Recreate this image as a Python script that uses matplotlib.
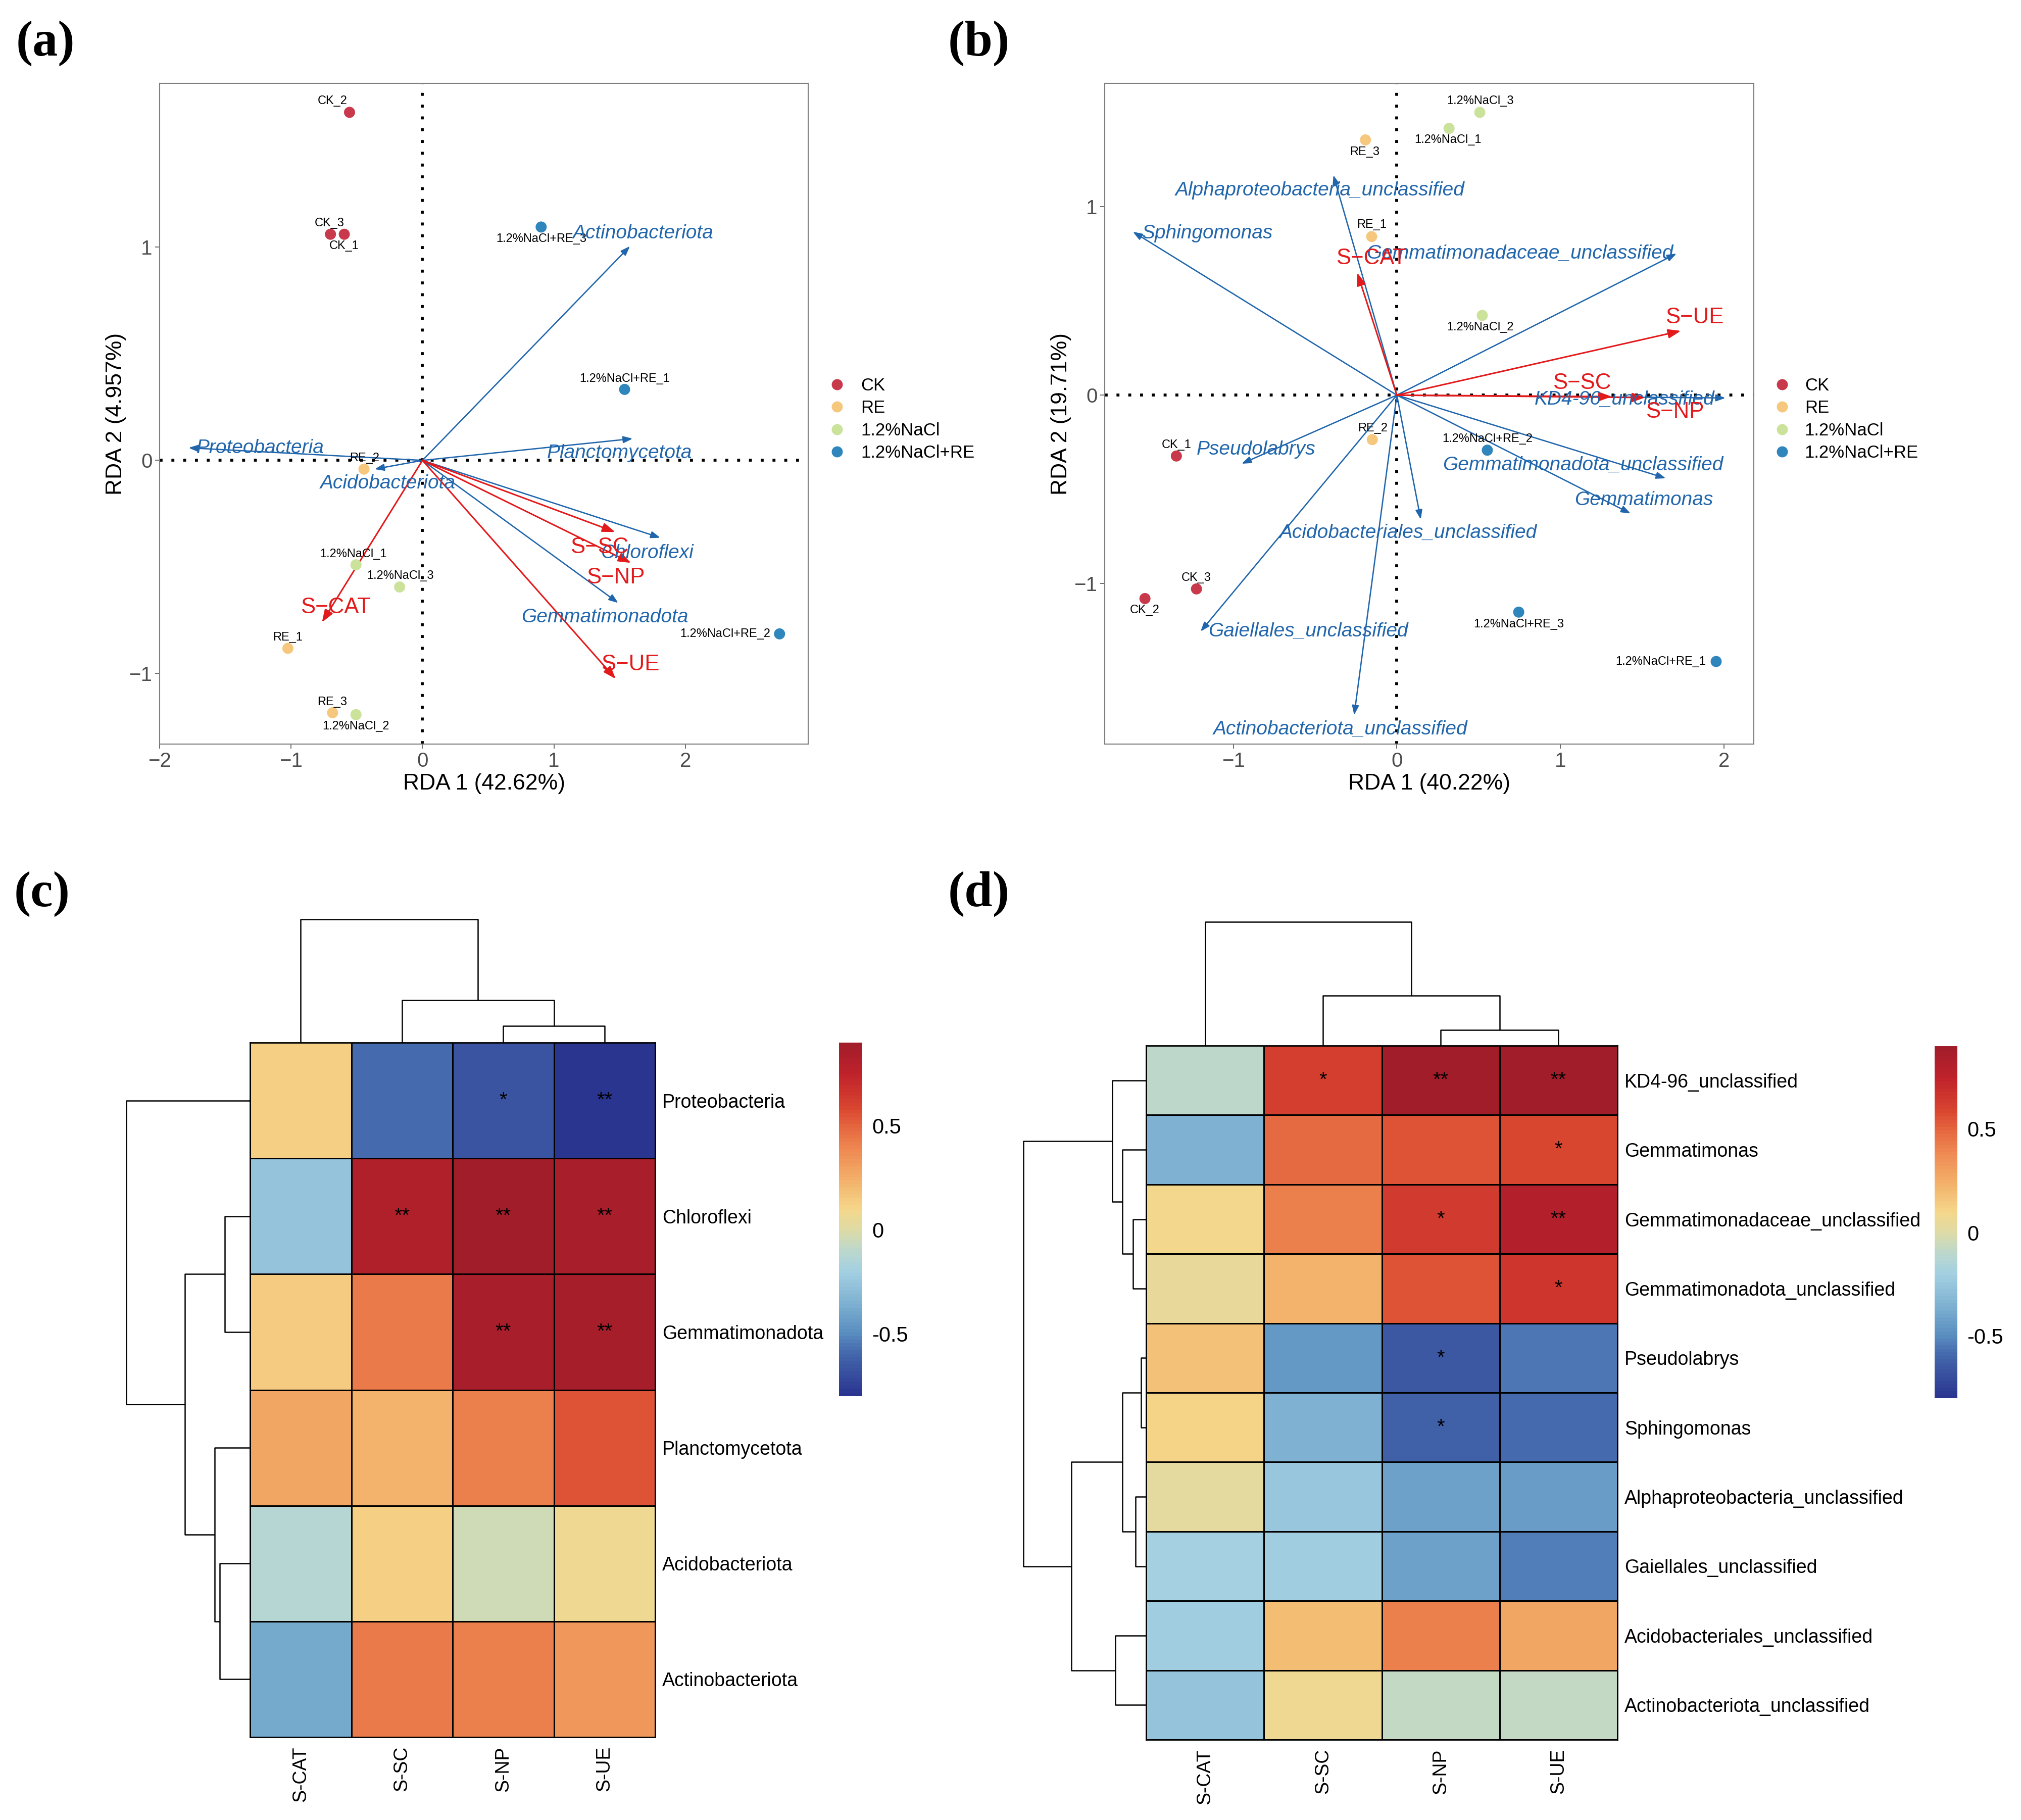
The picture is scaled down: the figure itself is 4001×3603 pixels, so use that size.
import numpy as np
import matplotlib
matplotlib.use('Agg')
import matplotlib.pyplot as plt
from matplotlib import font_manager as fm
from matplotlib.colors import LinearSegmentedColormap, Normalize
from matplotlib.lines import Line2D
from matplotlib.cm import ScalarMappable

# ------------------------------------------------------------------ data
groups = ['CK', 'RE', '1.2%NaCl', '1.2%NaCl+RE']
group_colors = ['#C8394B', '#F6C87E', '#CBE29A', '#2E86BC']

sample_names = ['CK_1', 'CK_2', 'CK_3', 'RE_1', 'RE_2', 'RE_3',
                '1.2%NaCl_1', '1.2%NaCl_2', '1.2%NaCl_3',
                '1.2%NaCl+RE_1', '1.2%NaCl+RE_2', '1.2%NaCl+RE_3']
sample_groups = [0, 0, 0, 1, 1, 1, 2, 2, 2, 3, 3, 3]

env_names = ['S\u2212SC', 'S\u2212NP', 'S\u2212UE', 'S\u2212CAT']

# panel (a) RDA
a_rda1 = [-0.595, -0.555, -0.700, -1.024, -0.445, -0.684, -0.506, -0.506, -0.174, 1.538, 2.717, 0.903]
a_rda2 = [1.061, 1.633, 1.061, -0.882, -0.041, -1.184, -0.490, -1.193, -0.594, 0.333, -0.814, 1.095]
a_lab1 = [-0.595, -0.684, -0.708, -1.024, -0.441, -0.688, -0.526, -0.506, -0.170, 1.538, 2.304, 0.903]
a_lab2 = [1.005, 1.687, 1.113, -0.832, 0.011, -1.134, -0.440, -1.247, -0.542, 0.383, -0.814, 1.039]
a_species = ['Actinobacteriota', 'Proteobacteria', 'Planctomycetota',
             'Acidobacteriota', 'Chloroflexi', 'Gemmatimonadota']
a_sp1 = [1.579, -1.780, 1.600, -0.364, 1.810, 1.490]
a_sp2 = [1.005, 0.059, 0.102, -0.041, -0.363, -0.669]
a_splab1 = [1.680, -1.235, 1.498, -0.263, 1.713, 1.389]
a_splab2 = [1.066, 0.059, 0.034, -0.107, -0.435, -0.737]
a_env1 = [1.466, 1.587, 1.470, -0.765]
a_env2 = [-0.336, -0.481, -1.025, -0.760]
a_envlab1 = [1.348, 1.470, 1.580, -0.660]
a_envlab2 = [-0.408, -0.549, -0.957, -0.689]

# panel (b) RDA
b_rda1 = [-1.348, -1.540, -1.225, -0.154, -0.150, -0.192, 0.319, 0.522, 0.507, 1.952, 0.553, 0.745]
b_rda2 = [-0.323, -1.079, -1.028, 0.841, -0.236, 1.354, 1.415, 0.423, 1.500, -1.413, -0.292, -1.151]
b_lab1 = [-1.348, -1.540, -1.225, -0.154, -0.146, -0.196, 0.311, 0.511, 0.511, 1.614, 0.553, 0.745]
b_lab2 = [-0.264, -1.141, -0.969, 0.903, -0.177, 1.290, 1.354, 0.359, 1.559, -1.413, -0.233, -1.215]
b_species = ['Alphaproteobacteria_unclassified', 'Sphingomonas',
             'Gemmatimonadaceae_unclassified', 'KD4-96_unclassified',
             'Gemmatimonadota_unclassified', 'Gemmatimonas', 'Pseudolabrys',
             'Acidobacteriales_unclassified', 'Gaiellales_unclassified',
             'Actinobacteriota_unclassified']
b_sp1 = [-0.388, -1.614, 1.710, 2.009, 1.644, 1.429, -0.949, 0.146, -1.200, -0.261]
b_sp2 = [1.167, 0.867, 0.751, -0.015, -0.441, -0.628, -0.364, -0.659, -1.254, -1.697]
b_splab1 = [-0.469, -1.156, 0.753, 1.393, 1.139, 1.510, -0.860, 0.069, -0.542, -0.346]
b_splab2 = [1.085, 0.859, 0.751, -0.023, -0.372, -0.556, -0.290, -0.731, -1.254, -1.772]
b_env1 = [1.314, 1.517, 1.736, -0.242]
b_env2 = [-0.008, -0.013, 0.341, 0.649]
b_envlab1 = [1.130, 1.698, 1.821, -0.158]
b_envlab2 = [0.064, -0.090, 0.413, 0.726]

# heatmaps
hm_cols = ['S-CAT', 'S-SC', 'S-NP', 'S-UE']
c_rows = ['Proteobacteria', 'Chloroflexi', 'Gemmatimonadota',
          'Planctomycetota', 'Acidobacteriota', 'Actinobacteriota']
c_vals = [[0.13, -0.58, -0.68, -0.80],
          [-0.27, 0.83, 0.90, 0.85],
          [0.15, 0.44, 0.85, 0.88],
          [0.28, 0.22, 0.41, 0.55],
          [-0.13, 0.13, -0.04, 0.08],
          [-0.39, 0.44, 0.42, 0.33]]
c_sig = [['', '', '*', '**'],
         ['', '**', '**', '**'],
         ['', '', '**', '**'],
         ['', '', '', ''],
         ['', '', '', ''],
         ['', '', '', '']]
d_rows = ['KD4-96_unclassified', 'Gemmatimonas', 'Gemmatimonadaceae_unclassified',
          'Gemmatimonadota_unclassified', 'Pseudolabrys', 'Sphingomonas',
          'Alphaproteobacteria_unclassified', 'Gaiellales_unclassified',
          'Acidobacteriales_unclassified', 'Actinobacteriota_unclassified']
d_vals = [[-0.10, 0.62, 0.90, 0.90],
          [-0.35, 0.49, 0.55, 0.59],
          [0.09, 0.41, 0.63, 0.80],
          [0.04, 0.22, 0.55, 0.66],
          [0.17, -0.46, -0.65, -0.56],
          [0.11, -0.35, -0.62, -0.58],
          [0.03, -0.25, -0.41, -0.43],
          [-0.19, -0.22, -0.41, -0.53],
          [-0.21, 0.20, 0.41, 0.28],
          [-0.27, 0.08, -0.08, -0.08]]
d_sig = [['', '*', '**', '**'],
         ['', '', '', '*'],
         ['', '', '*', '**'],
         ['', '', '', '*'],
         ['', '', '*', ''],
         ['', '', '*', ''],
         ['', '', '', ''],
         ['', '', '', ''],
         ['', '', '', ''],
         ['', '', '', '']]

# dendrogram merges: (child_a, child_b, height)
c_col_merges = [(2, 3, 33), (1, 4, 84), (0, 5, 244)]
c_row_merges = [(1, 2, 50), (4, 5, 60), (3, 7, 70), (6, 8, 129), (0, 9, 245)]
d_col_merges = [(2, 3, 31), (1, 4, 99), (0, 5, 245)]
d_row_merges = [(2, 3, 26), (1, 10, 47), (0, 11, 67), (4, 5, 10), (6, 7, 21),
                (13, 14, 47), (8, 9, 61), (15, 16, 148), (12, 17, 243)]

cmap_vals = [-0.80, -0.60, -0.50, -0.35, -0.20, -0.10, 0.00, 0.10, 0.25, 0.40, 0.50, 0.60, 0.75, 0.90]
cmap_cols = ['#2A3590', '#4468AC', '#5A8EC0', '#80B3D2', '#A4D0E2', '#BCD8CC', '#DEDBA6',
             '#F5D78A', '#F3AE68', '#EE8650', '#E5663F', '#D8432F', '#C0232B', '#A11D2A']

# ------------------------------------------------------------------ setup
W, H = 4001, 3603
DPI = 100
plt.rcParams['font.family'] = ['Liberation Sans', 'DejaVu Sans']
avail = {f.name for f in fm.fontManager.ttflist}
if 'Liberation Sans Narrow' in avail:
    HM_FONT, HM_SIZE = ['Liberation Sans Narrow', 'Liberation Sans'], 31
else:
    HM_FONT, HM_SIZE = ['Liberation Sans', 'DejaVu Sans'], 27

fig = plt.figure(figsize=(W / DPI, H / DPI), dpi=DPI, facecolor='white')


def rect(x0, y0, x1, y1):
    return [x0 / W, 1 - y1 / H, (x1 - x0) / W, (y1 - y0) / H]


BLUE = '#2166AC'
RED = '#E31A1C'
DOT = (0, (1, 3))


def rda_panel(r, xlim, ylim, xticks, xlabel, ylabel,
              s1, s2, l1, l2, sp, sp1, sp2, spl1, spl2, e1, e2, el1, el2):
    ax = fig.add_axes(r)
    ax.set_xlim(*xlim)
    ax.set_ylim(*ylim)
    ax.axhline(0, color='black', lw=4.2, ls=DOT, zorder=1)
    ax.axvline(0, color='black', lw=4.2, ls=DOT, zorder=1)
    for x, y in zip(sp1, sp2):
        ax.annotate('', xy=(x, y), xytext=(0, 0),
                    arrowprops=dict(arrowstyle='-|>,head_length=0.55,head_width=0.2',
                                    color=BLUE, lw=1.9, mutation_scale=20,
                                    shrinkA=0, shrinkB=0), zorder=2)
    for x, y in zip(e1, e2):
        ax.annotate('', xy=(x, y), xytext=(0, 0),
                    arrowprops=dict(arrowstyle='-|>,head_length=0.75,head_width=0.27',
                                    color=RED, lw=2.2, mutation_scale=20,
                                    shrinkA=0, shrinkB=0), zorder=3)
    cols = [group_colors[g] for g in sample_groups]
    ax.scatter(s1, s2, s=250, c=cols, edgecolors='none', zorder=4)
    for name, x, y in zip(sample_names, l1, l2):
        ax.text(x, y, name, fontsize=17, ha='center', va='center', color='black', zorder=5)
    for name, x, y in zip(sp, spl1, spl2):
        ax.text(x, y, name, fontsize=28, style='italic', ha='center', va='center',
                color=BLUE, zorder=5)
    for name, x, y in zip(env_names, el1, el2):
        ax.text(x, y, name, fontsize=31.5, ha='center', va='center', color=RED, zorder=6)
    ax.set_xticks(xticks)
    ax.set_yticks([-1, 0, 1])
    for s in ax.spines.values():
        s.set_color('#7F7F7F')
        s.set_linewidth(1.5)
    ax.tick_params(direction='out', length=6.5, width=1.2, color='#555555',
                   labelsize=29, labelcolor='#4D4D4D', pad=4)
    ax.set_xlabel(xlabel, fontsize=32, labelpad=4)
    ax.set_ylabel(ylabel, fontsize=32, labelpad=4)
    return ax


ax_a = rda_panel(rect(316, 165, 1600, 1473), (-2.0, 2.935), (-1.331, 1.769), [-2, -1, 0, 1, 2],
                 'RDA 1 (42.62%)', 'RDA 2 (4.957%)',
                 a_rda1, a_rda2, a_lab1, a_lab2, a_species, a_sp1, a_sp2, a_splab1, a_splab2,
                 a_env1, a_env2, a_envlab1, a_envlab2)
ax_b = rda_panel(rect(2187, 165, 3472, 1473), (-1.786, 2.182), (-1.851, 1.654), [-1, 0, 1, 2],
                 'RDA 1 (40.22%)', 'RDA 2 (19.71%)',
                 b_rda1, b_rda2, b_lab1, b_lab2, b_species, b_sp1, b_sp2, b_splab1, b_splab2,
                 b_env1, b_env2, b_envlab1, b_envlab2)

handles = [Line2D([], [], marker='o', ls='none', markersize=15.8,
                  markerfacecolor=c, markeredgecolor='none') for c in group_colors]
for ax, xa, pad in ((ax_a, 1640, 0.85), (ax_b, 3511, 0.78)):
    ax.legend(handles, groups, loc='center left', bbox_to_anchor=(xa / W, 1 - 830 / H),
              bbox_transform=fig.transFigure, frameon=False, fontsize=25,
              handlelength=1.0, handletextpad=pad, labelspacing=0.33,
              borderpad=0, borderaxespad=0)

# ------------------------------------------------------------------ heatmaps
cmap = LinearSegmentedColormap.from_list(
    'hm', [((v - cmap_vals[0]) / (cmap_vals[-1] - cmap_vals[0]), c)
           for v, c in zip(cmap_vals, cmap_cols)], N=100)
norm = Normalize(vmin=-0.8, vmax=0.9)


def dendro_segments(n, merges):
    pos = {i: i + 0.5 for i in range(n)}
    hgt = {i: 0.0 for i in range(n)}
    segs = []
    for k, (a, b, h) in enumerate(merges):
        segs.append(([pos[a], pos[a], pos[b], pos[b]], [hgt[a], h, h, hgt[b]]))
        pos[n + k] = (pos[a] + pos[b]) / 2
        hgt[n + k] = h
    return segs


def heatmap_panel(grid, col_top, row_left, cbar, vals, rows, sig, col_merges, row_merges):
    gx0, gy0, gx1, gy1 = grid
    arr = np.array(vals)
    nr, nc = arr.shape
    ax = fig.add_axes(rect(gx0, gy0, gx1, gy1))
    ax.pcolormesh(np.arange(nc + 1), np.arange(nr + 1), arr, cmap=cmap, norm=norm,
                  edgecolors='black', linewidth=2.0)
    ax.set_xlim(0, nc)
    ax.set_ylim(nr, 0)
    for s in ax.spines.values():
        s.set_color('black')
        s.set_linewidth(2.0)
    for i in range(nr):
        for j in range(nc):
            if sig[i][j]:
                ax.text(j + 0.5, i + 0.5, sig[i][j], ha='center', va='center',
                        fontsize=29, color='black')
    ax.set_xticks(np.arange(nc) + 0.5)
    ax.set_xticklabels(hm_cols, rotation=90, family=HM_FONT, fontsize=HM_SIZE)
    ax.yaxis.tick_right()
    ax.set_yticks(np.arange(nr) + 0.5)
    ax.set_yticklabels(rows, family=HM_FONT, fontsize=HM_SIZE)
    ax.tick_params(axis='x', length=0, pad=13)
    ax.tick_params(axis='y', length=0, pad=10)

    # column dendrogram
    cmax = max(m[2] for m in col_merges)
    axc = fig.add_axes(rect(gx0, col_top, gx1, gy0))
    for xs, ys in dendro_segments(nc, col_merges):
        axc.plot(xs, ys, color='black', lw=1.8, clip_on=False, solid_capstyle='butt')
    axc.set_xlim(0, nc)
    axc.set_ylim(0, cmax)
    axc.axis('off')

    # row dendrogram
    rmax = max(m[2] for m in row_merges)
    axr = fig.add_axes(rect(row_left, gy0, gx0, gy1))
    for ps, hs in dendro_segments(nr, row_merges):
        axr.plot(hs, ps, color='black', lw=1.8, clip_on=False, solid_capstyle='butt')
    axr.set_xlim(rmax, 0)
    axr.set_ylim(nr, 0)
    axr.axis('off')

    # colour bar
    cx0, cy0, cx1, cy1 = cbar
    axb = fig.add_axes(rect(cx0, cy0, cx1, cy1))
    cb = fig.colorbar(ScalarMappable(norm=norm, cmap=cmap), cax=axb, ticks=[-0.5, 0, 0.5])
    cb.outline.set_visible(False)
    cb.ax.set_yticklabels(['-0.5', '0', '0.5'])
    cb.ax.tick_params(length=0, labelsize=30, pad=14)


heatmap_panel((495, 2064, 1297, 3439), 1820, 250, (1661, 2064, 1707, 2764),
              c_vals, c_rows, c_sig, c_col_merges, c_row_merges)
heatmap_panel((2269, 2070, 3202, 3444), 1825, 2026, (3830, 2071, 3875, 2768),
              d_vals, d_rows, d_sig, d_col_merges, d_row_merges)

# ------------------------------------------------------------------ panel tags
for tag, x, y in (('(a)', 32, 86), ('(b)', 1877, 86), ('(c)', 28, 1770), ('(d)', 1877, 1770)):
    fig.text(x / W, 1 - y / H, tag, ha='left', va='center', fontsize=72,
             fontweight='bold', family=['Liberation Serif', 'DejaVu Serif'])

fig.savefig('out.png', dpi=DPI, facecolor='white')
